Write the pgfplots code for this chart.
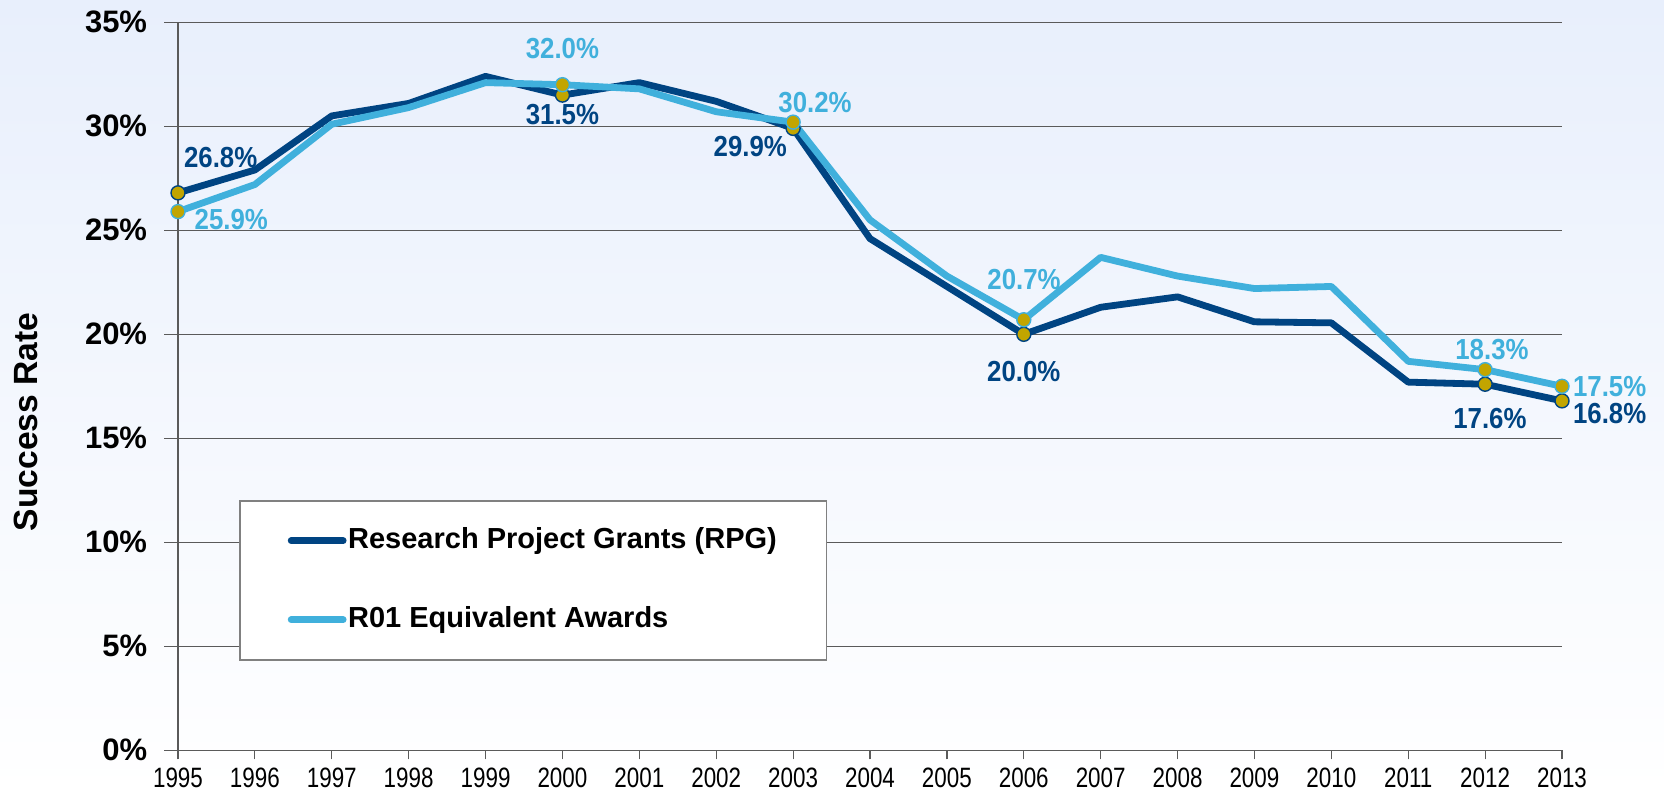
\documentclass[border=0pt]{standalone}
\usepackage{pgfplots}
\pgfplotsset{compat=1.18}
\usepackage{fontspec}
\setmainfont{Liberation Sans}
\newfontfamily\yearfont[FakeStretch=0.8]{Liberation Sans}
\newfontfamily\labfont[FakeStretch=0.89]{Liberation Sans}
\definecolor{rpg}{RGB}{0,68,130}
\definecolor{rzo}{RGB}{64,176,220}
\definecolor{mk}{RGB}{194,165,0}
\definecolor{bgtop}{RGB}{232,239,252}
\definecolor{gridc}{RGB}{90,90,90}
\begin{document}
\begin{tikzpicture}
\shade[top color=bgtop, bottom color=white] (0,0) rectangle (832pt,396.5pt);
\path[use as bounding box] (0,0) rectangle (832pt,396.5pt);
\begin{axis}[
  at={(89pt,21.35pt)}, anchor=south west,
  scale only axis, width=692pt, height=364pt,
  xmin=1995, xmax=2013, ymin=0, ymax=35,
  axis x line=bottom, axis y line=left,
  axis line style={-, gridc, line width=0.7pt},
  clip=false,
  xtick={1995,1996,...,2013},
  xticklabels={1995,1996,1997,1998,1999,2000,2001,2002,2003,2004,2005,2006,2007,2008,2009,2010,2011,2012,2013},
  ytick={0,5,...,35},
  yticklabels={0\%,5\%,10\%,15\%,20\%,25\%,30\%,35\%},
  ymajorgrids, major grid style={gridc, line width=0.6pt},
  tick align=outside,
  major tick style={gridc, line width=0.6pt},
  ytick style={/pgfplots/major tick length=7pt},
  xtick style={/pgfplots/major tick length=4.5pt},
  xticklabel style={font=\yearfont\fontsize{14}{14}\selectfont, anchor=north, inner sep=0pt, yshift=-4.5pt},
  yticklabel style={font=\bfseries\fontsize{15.5}{15.5}\selectfont, anchor=east, inner sep=0pt, xshift=-11pt},
  ylabel={Success Rate},
  ylabel style={font=\bfseries\fontsize{16.8}{17}\selectfont, at={(axis description cs:-0.1098,0.451)}, anchor=center, rotate=0},
  legend style={at={(0.0441,0.3438)}, anchor=north west, draw=gray, line width=0.75pt, fill=white,
    inner xsep=24pt, inner ysep=12.75pt, row sep=25pt,
    font=\bfseries\fontsize{14.5}{17}\selectfont,
    nodes={inner xsep=0.8pt, inner ysep=0pt, text height=11pt, text depth=3.5pt}},
  legend cell align=left,
  legend image code/.code={\draw[#1,line cap=round,line width=3.4pt] (0pt,0pt) -- (26pt,0pt);},
]
\addplot[rpg, line width=3.4pt, line join=round, no markers] coordinates {
(1995,26.8) (1996,27.9) (1997,30.5) (1998,31.1) (1999,32.4) (2000,31.5) (2001,32.1) (2002,31.2) (2003,29.9) (2004,24.6) (2005,22.3) (2006,20.0) (2007,21.3) (2008,21.8) (2009,20.6) (2010,20.55) (2011,17.7) (2012,17.6) (2013,16.8)};
\addlegendentry{Research Project Grants (RPG)}
\addplot[rzo, line width=3.4pt, line join=round, no markers] coordinates {
(1995,25.9) (1996,27.2) (1997,30.1) (1998,30.9) (1999,32.1) (2000,32.0) (2001,31.8) (2002,30.7) (2003,30.2) (2004,25.5) (2005,22.8) (2006,20.7) (2007,23.7) (2008,22.8) (2009,22.2) (2010,22.3) (2011,18.7) (2012,18.3) (2013,17.5)};
\addlegendentry{R01 Equivalent Awards}
\addplot[forget plot, only marks, mark=*, mark size=3.5pt, mark options={fill=mk, draw=rpg, line width=0.7pt}] coordinates {
(1995,26.8) (2000,31.5) (2003,29.9) (2006,20.0) (2012,17.6) (2013,16.8)};
\addplot[forget plot, only marks, mark=*, mark size=3.5pt, mark options={fill=mk, draw=rzo, line width=0.7pt}] coordinates {
(1995,25.9) (2000,32.0) (2003,30.2) (2006,20.7) (2012,18.3) (2013,17.5)};
\begin{scope}[every node/.style={font=\labfont\bfseries\fontsize{14.5}{15}\selectfont, inner sep=0pt, anchor=center}]
\node[text=rpg] at (axis cs:1995.555,28.52) {26.8\%};
\node[text=rzo] at (axis cs:1995.693,25.51) {25.9\%};
\node[text=rzo] at (axis cs:2000,33.73) {32.0\%};
\node[text=rpg] at (axis cs:2000,30.56) {31.5\%};
\node[text=rpg] at (axis cs:2002.443,29.03) {29.9\%};
\node[text=rzo] at (axis cs:2003.285,31.12) {30.2\%};
\node[text=rzo] at (axis cs:2006.003,22.61) {20.7\%};
\node[text=rpg] at (axis cs:2006,18.22) {20.0\%};
\node[text=rzo] at (axis cs:2012.089,19.29) {18.3\%};
\node[text=rpg] at (axis cs:2012.062,15.97) {17.6\%};
\node[text=rzo] at (axis cs:2013.62,17.5) {17.5\%};
\node[text=rpg] at (axis cs:2013.62,16.17) {16.8\%};
\end{scope}
\end{axis}
\end{tikzpicture}
\end{document}
